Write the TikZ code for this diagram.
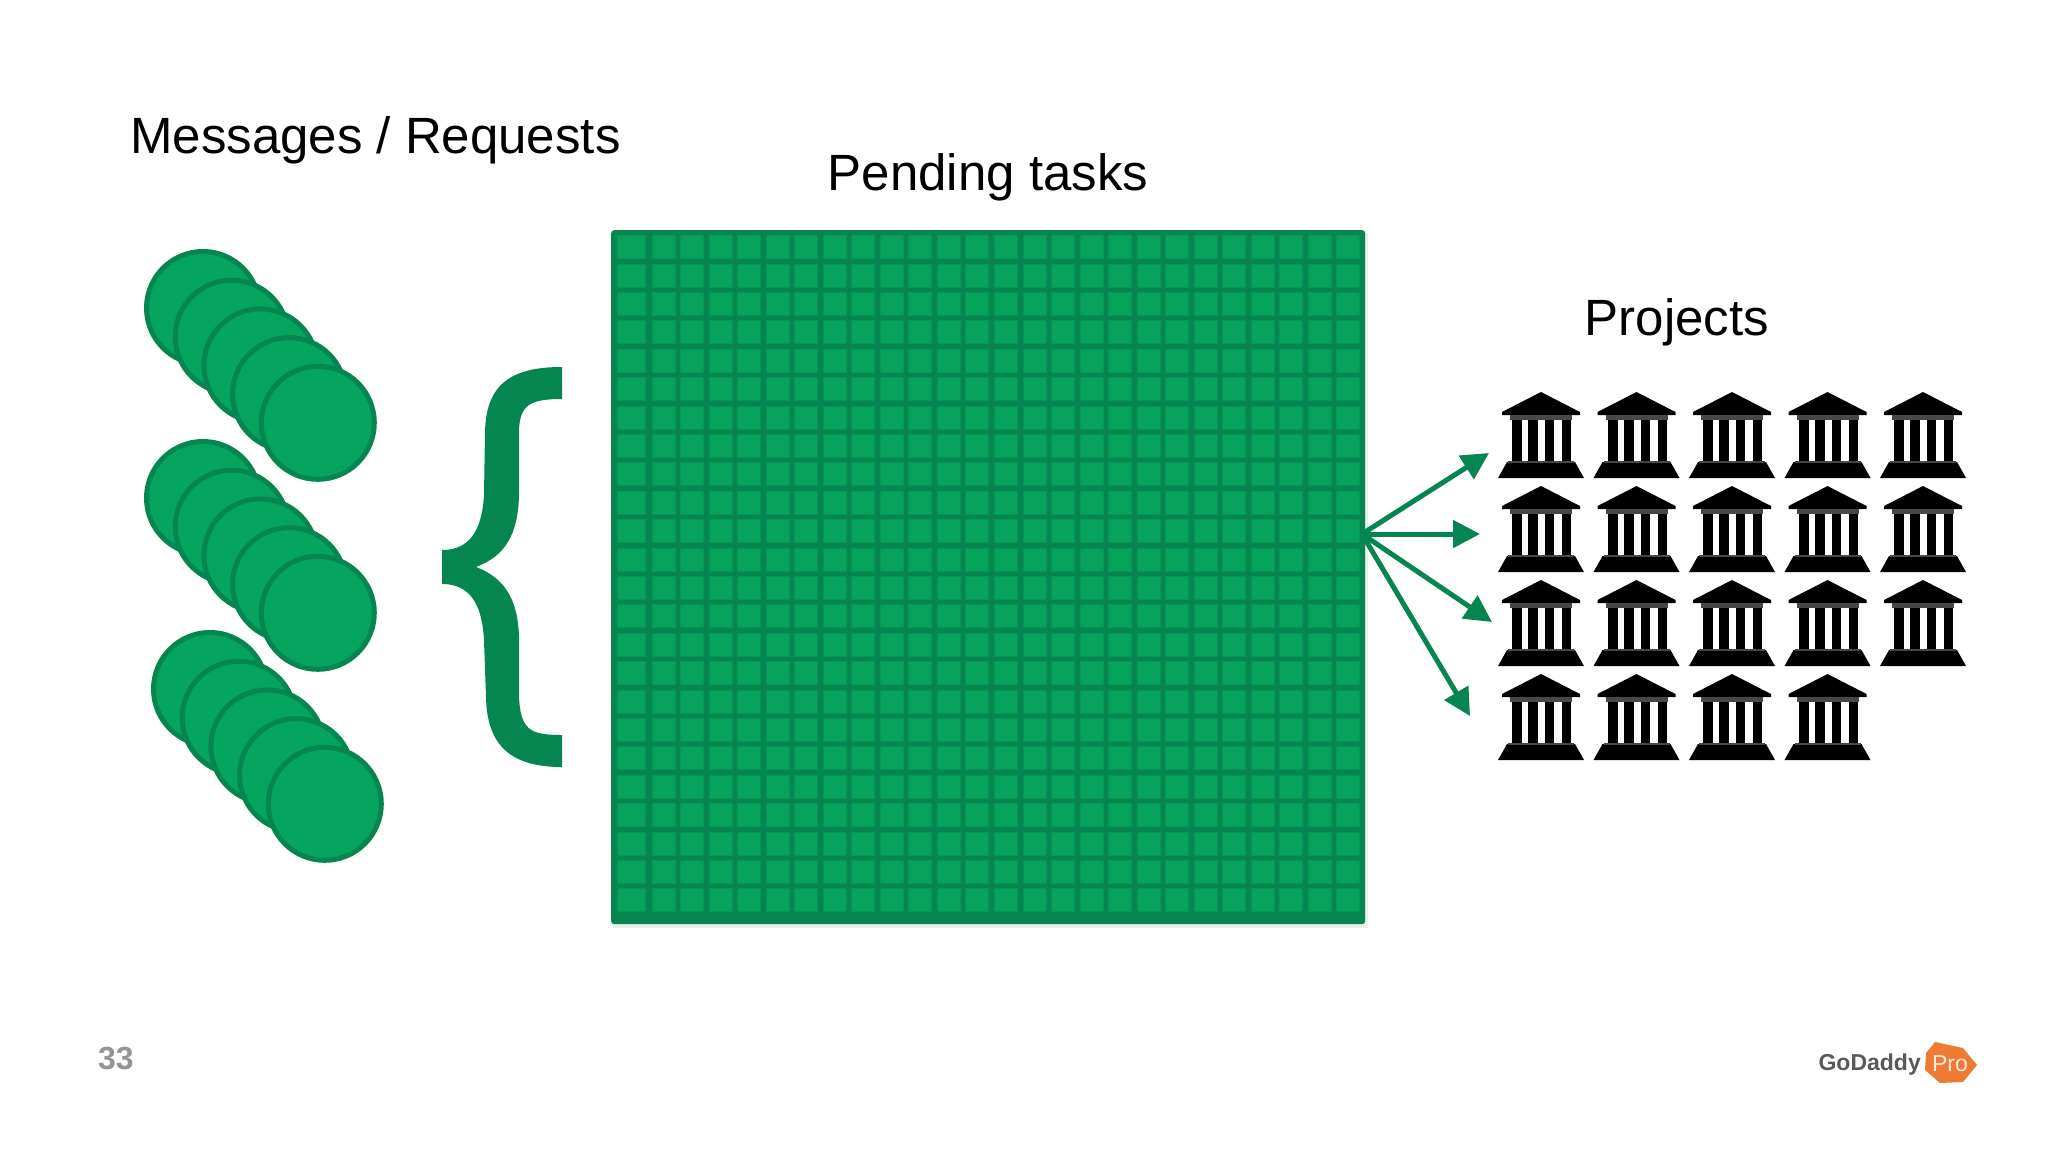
\documentclass[tikz,border=0pt]{standalone}
\usepackage{fontspec}
\setmainfont{Liberation Sans}
\usetikzlibrary{arrows.meta}
\definecolor{gfill}{HTML}{05A55F}
\definecolor{gdark}{HTML}{05854F}
\definecolor{gmid}{HTML}{069458}
\definecolor{cellfill}{HTML}{07A35D}
\definecolor{pro}{HTML}{EE7A33}
\tikzset{
  coin/.style={circle,draw=gdark,fill=gfill,line width=5pt,minimum size=113pt,inner sep=0pt},
  title/.style={font=\fontsize{51}{56}\selectfont,text=black,inner sep=0pt},
  fan/.style={draw=gdark,line width=5pt,-{Triangle[length=27pt,width=27pt]}},
  cellbox/.style={fill=cellfill,draw=none},
  cellhalo/.style={fill=gmid,draw=none}
}
\newcommand{\bank}[2]{%
  \begin{scope}[shift={(#1,#2)}]
    \fill[black] (0,-44) -- (39,-24) -- (39,-21) -- (-39,-21) -- (-39,-24) -- cycle;
    \fill[black!72] (-31,-21) rectangle (31,-16);
    \fill[black] (-29,-16) rectangle (-19,26);
    \fill[black] (-13,-16) rectangle (-3,26);
    \fill[black] (4,-16) rectangle (13,26);
    \fill[black] (21,-16) rectangle (30,26);
    \fill[black] (-34,26) -- (34,26) -- (43,42) -- (-43,42) -- cycle;
    \fill[black!72] (-33,25) rectangle (33,27);
  \end{scope}}
\newcommand{\taskcell}[4]{%
  \fill[cellhalo] ({#1-1},{#2-1}) rectangle ({#1+#3+1},{#2+#4+1});
  \fill[cellbox] (#1,#2) rectangle ({#1+#3},{#2+#4});}
\begin{document}
\begin{tikzpicture}[x=1pt,y=-1pt]
\useasboundingbox (0,0) rectangle (2048,1152);
\fill[white] (0,0) rectangle (2048,1152);
% titles
\node[title,anchor=west] (t1) at (130,140) {Messages / Requests};
\node[title,anchor=center] (t2) at (988,177) {Pending tasks};
\node[title,anchor=center] (t3) at (1677,322) {Projects};
% coins
\foreach \gx/\gy/\g in {203/308/a,203/498/b,210/689/c}{
  \foreach \i in {0,...,4}{
    \node[coin] (coin\g\i) at ({\gx+28.7*\i},{\gy+28.7*\i}) {};
  }
}
% brace
\fill[gdark] (562,367) -- (562,399)
  .. controls (530,399) and (520,405) .. (519,430)
  -- (519,495)
  .. controls (518,535) and (505,556) .. (476,567)
  .. controls (505,578) and (518,600) .. (519,637)
  -- (519,695)
  .. controls (520,730) and (530,735) .. (562,735)
  -- (562,767)
  .. controls (510,767) and (487,745) .. (486,697)
  -- (484,640)
  .. controls (482,604) and (470,584) .. (442,584)
  -- (442,550)
  .. controls (470,550) and (482,530) .. (484,495)
  -- (485,432)
  .. controls (486,385) and (510,367) .. (562,367) -- cycle;
% pending tasks block
\fill[black!7] (613,233) rectangle (1368,928);
\node[draw=none,fill=gdark,rounded corners=3pt,minimum width=754pt,minimum height=694pt,inner sep=0pt,anchor=north west] (tasks) at (611,230) {};
\foreach \r in {0,...,23}{
  \pgfmathsetmacro{\ry}{\r==0 ? 236 : 264.5+28.4*(\r-1)}
  \pgfmathsetmacro{\rh}{\r==0 ? 21.5 : 22}
  \taskcell{617.5}{\ry}{27}{\rh}
  \foreach \c in {0,...,24}{
    \taskcell{652.5+28.54*\c}{\ry}{22}{\rh}
  }
}
% hub and arrow targets
\coordinate (hub) at (1362,534);
\coordinate (p1) at (1489,453);
\coordinate (p2) at (1480,534);
\coordinate (p3) at (1492,622);
\coordinate (p4) at (1470,716);
\foreach \p in {p1,p2,p3,p4}{ \draw[fan] (hub) -- (\p); }
% buildings
\foreach \r in {0,1,2,3}{
  \foreach \c in {0,...,4}{
    \ifnum\r=3 \ifnum\c=4 \else \bank{1541+95.5*\c}{436+94*\r}\fi
    \else \bank{1541+95.5*\c}{436+94*\r}\fi
  }
}
% footer
\node[font=\bfseries\fontsize{32}{36}\selectfont,text=black!42,anchor=center,inner sep=0pt] (pg) at (116,1058) {33};
\node[font=\bfseries\fontsize{23}{28}\selectfont,text=black!65,anchor=east,inner sep=0pt] (logo) at (1921,1065) {GoDaddy};
\fill[pro] (1935,1042) -- (1963,1048) -- (1977,1065) -- (1963,1082) -- (1940,1083) -- (1925,1070) -- (1926,1053) -- cycle;
\node[font=\fontsize{23}{26}\selectfont,text=white!85!pro,inner sep=0pt] (prolabel) at (1950,1064) {Pro};
\end{tikzpicture}
\end{document}
